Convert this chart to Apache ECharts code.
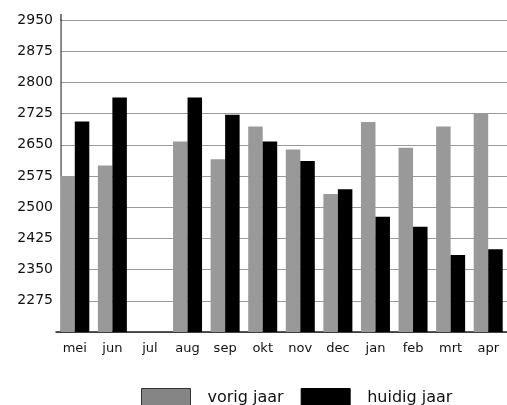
<!DOCTYPE html>
<html>
<head>
<meta charset="utf-8">
<script src="https://cdn.jsdelivr.net/npm/echarts@6/dist/echarts.min.js"></script>
<style>
  html, body { margin: 0; padding: 0; background: #fff; }
  #chart { width: 507px; height: 405px; }
</style>
</head>
<body>
<div id="chart"></div>
<script>
// Months (May through April)
const months = ['mei', 'jun', 'jul', 'aug', 'sep', 'okt', 'nov', 'dec', 'jan', 'feb', 'mrt', 'apr'];
// Previous year
const vorigJaar = [2575, 2600, null, 2658, 2615, 2694, 2639, 2532, 2705, 2643, 2694, 2724];
// Current year
const huidigJaar = [2706, 2764, null, 2764, 2722, 2658, 2611, 2543, 2477, 2453, 2385, 2399];
// Value axis
const yMin = 2200;
const yMax = 2950;
const yStep = 75;

const chart = echarts.init(document.getElementById('chart'), null, { renderer: 'canvas' });

const font = 'DejaVu Sans';

chart.setOption({
  animation: false,
  backgroundColor: '#ffffff',
  grid: { left: 56, top: 20, width: 452, bottom: 73, containLabel: false },
  // small white strip hides gridline stubs left of the value axis,
  // plus the short axis overhang above the top gridline
  graphic: [
    { type: 'rect', shape: { x: 54, y: 14, width: 6.2, height: 316 }, style: { fill: '#ffffff' }, z: 50 },
    { type: 'line', shape: { x1: 61, y1: 14, x2: 61, y2: 21 }, style: { stroke: '#555', lineWidth: 1.5 }, z: 51 }
  ],
  legend: {
    bottom: -8,
    left: 136,
    itemWidth: 49,
    itemHeight: 19,
    itemGap: 17,
    icon: 'rect',
    textStyle: { fontFamily: font, fontSize: 16, color: '#111', padding: [0, 0, 0, 12] },
    data: [
      { name: 'vorig jaar', itemStyle: { color: '#858585', borderColor: '#333', borderWidth: 1 } },
      { name: 'huidig jaar', itemStyle: { color: '#000', borderColor: '#000', borderWidth: 1 } }
    ]
  },
  xAxis: {
    type: 'category',
    data: months,
    axisLine: { show: true, lineStyle: { color: '#222', width: 1.5 } },
    axisTick: { show: false },
    axisLabel: { fontFamily: font, fontSize: 13, color: '#111', margin: 10, interval: 0 },
    splitLine: { show: false }
  },
  yAxis: {
    type: 'value',
    min: yMin,
    max: yMax,
    interval: yStep,
    offset: -5,
    axisLine: { show: true, lineStyle: { color: '#555', width: 1.5 } },
    axisTick: { show: false },
    axisLabel: {
      fontFamily: font, fontSize: 14, color: '#111', margin: 8,
      showMinLabel: false,
      formatter: (v) => String(v)
    },
    splitLine: { show: true, lineStyle: { color: '#9a9a9a', width: 1.2 } }
  },
  series: [
    {
      name: 'vorig jaar',
      type: 'bar',
      data: vorigJaar,
      barWidth: 14.5,
      barGap: '0%',
      itemStyle: { color: '#999999' }
    },
    {
      name: 'huidig jaar',
      type: 'bar',
      data: huidigJaar,
      barWidth: 14.5,
      barGap: '0%',
      itemStyle: { color: '#000000' }
    }
  ]
});
</script>
</body>
</html>
